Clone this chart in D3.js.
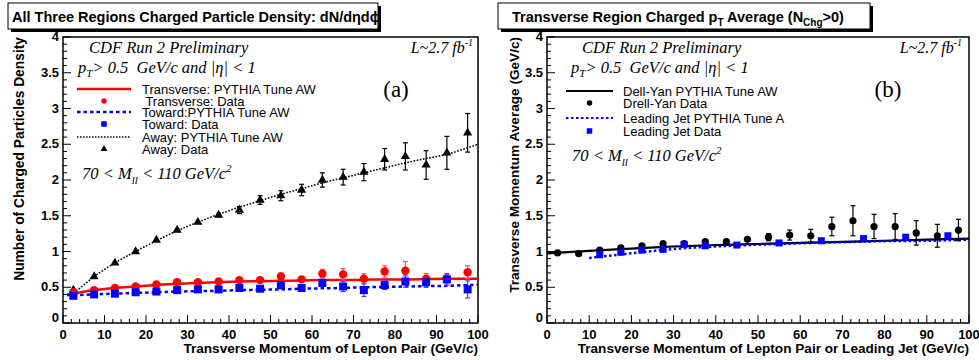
<!DOCTYPE html>
<html><head><meta charset="utf-8">
<script src="https://cdn.jsdelivr.net/npm/d3@7"></script>
<style>
body{margin:0;background:#fff;}
svg{display:block;}
</style></head>
<body><svg id="c" width="979" height="360"></svg>
<script>
// ---------- DATA ----------
const xBins = [2.5,7.5,12.5,17.5,22.5,27.5,32.5,37.5,42.5,47.5,52.5,57.5,62.5,67.5,72.5,77.5,82.5,87.5,92.5,97.5];
// Panel (a)
const transData = [0.43,0.46,0.49,0.51,0.54,0.57,0.57,0.58,0.60,0.60,0.65,0.61,0.69,0.68,0.62,0.72,0.73,0.62,0.62,0.71];
const transErr  = [0.01,0.01,0.01,0.01,0.01,0.02,0.02,0.02,0.03,0.03,0.05,0.04,0.06,0.08,0.07,0.08,0.13,0.07,0.06,0.09];
const towardData = [0.38,0.40,0.41,0.43,0.44,0.46,0.47,0.47,0.49,0.48,0.53,0.49,0.56,0.51,0.46,0.53,0.58,0.57,0.61,0.47];
const towardErr  = [0.01,0.01,0.01,0.01,0.01,0.02,0.02,0.02,0.03,0.04,0.05,0.04,0.05,0.07,0.09,0.06,0.08,0.07,0.08,0.12];
const awayData = [0.46,0.65,0.84,1.00,1.16,1.30,1.41,1.51,1.58,1.72,1.78,1.86,2.00,2.04,2.11,2.29,2.33,2.21,2.38,2.66];
const awayErr  = [0.02,0.02,0.02,0.02,0.02,0.03,0.03,0.04,0.05,0.06,0.07,0.08,0.10,0.11,0.12,0.15,0.19,0.20,0.23,0.27];
const theoryX = [1,2.5,7.5,12.5,17.5,22.5,27.5,32.5,37.5,42.5,47.5,52.5,57.5,62.5,67.5,72.5,77.5,82.5,87.5,92.5,97.5,100];
const transTheory  = [0.39,0.41,0.46,0.49,0.51,0.53,0.55,0.56,0.57,0.58,0.585,0.59,0.595,0.60,0.60,0.605,0.61,0.61,0.615,0.62,0.62,0.62];
const towardTheory = [0.39,0.39,0.40,0.41,0.42,0.43,0.44,0.445,0.45,0.46,0.465,0.47,0.48,0.485,0.49,0.50,0.505,0.51,0.515,0.52,0.53,0.535];
const awayTheory   = [0.40,0.43,0.65,0.84,1.00,1.15,1.29,1.41,1.52,1.62,1.71,1.80,1.88,1.96,2.03,2.10,2.17,2.24,2.30,2.36,2.45,2.50];
// Panel (b)
const dyData = [0.98,0.97,1.02,1.05,1.08,1.11,1.11,1.14,1.14,1.17,1.20,1.23,1.22,1.35,1.43,1.35,1.35,1.26,1.22,1.30];
const dyErr  = [0.01,0.01,0.01,0.02,0.02,0.02,0.03,0.03,0.03,0.04,0.05,0.07,0.09,0.13,0.21,0.17,0.18,0.17,0.16,0.15];
const jetX    = [12.5,17.5,22.5,27.5,32.5,37.5,45,55,65,75,85,95];
const jetData = [0.955,0.99,1.02,1.03,1.10,1.08,1.09,1.12,1.15,1.18,1.20,1.22];
const jetErr  = [0.01,0.01,0.01,0.01,0.01,0.01,0.01,0.01,0.02,0.02,0.02,0.03];
const dyTheoryX = [0,10,20,30,40,50,60,70,80,90,100];
const dyTheory  = [0.975,1.01,1.04,1.07,1.09,1.105,1.12,1.135,1.15,1.165,1.18];
const jetTheoryX = [10,20,30,40,50,60,70,80,90,100];
const jetTheory  = [0.91,0.975,1.035,1.07,1.095,1.115,1.13,1.145,1.15,1.165];
const xTicks = [0,10,20,30,40,50,60,70,80,90,100];
const yTicks = [0,0.5,1,1.5,2,2.5,3,3.5,4];
const yTickLabels = ["0","0.5","1","1.5","2","2.5","3","3.5","4"];

// ---------- DRAW ----------
const svg = d3.select("#c");
const SANS = "'Liberation Sans', Arial, sans-serif";
const SERIF = "'Liberation Serif', 'Times New Roman', serif";

function panel(o){
  const g = svg.append("g");
  const x = d3.scaleLinear().domain([0,100]).range([o.left, o.right]);
  const y = d3.scaleLinear().domain([0,4]).range([323, 37]);
  g.append("rect").attr("x",o.left).attr("y",37).attr("width",o.right-o.left).attr("height",286)
   .attr("fill","none").attr("stroke","#000").attr("stroke-width",1.5);
  const xMinor = d3.range(0,100.01,2);
  g.selectAll(".xm").data(xMinor).join("line")
   .attr("x1",d=>x(d)).attr("x2",d=>x(d)).attr("y1",323).attr("y2",d=>d%10===0?315:319)
   .attr("stroke","#000").attr("stroke-width",1);
  const yMinor = d3.range(0,4.001,0.1);
  g.selectAll(".ym").data(yMinor).join("line")
   .attr("y1",d=>y(d)).attr("y2",d=>y(d)).attr("x1",o.left)
   .attr("x2",d=>Math.abs(d*2-Math.round(d*2))<1e-6?o.left+8:o.left+4)
   .attr("stroke","#000").attr("stroke-width",1);
  g.selectAll(".xl").data(xTicks).join("text")
   .attr("x",d=>x(d)).attr("y",339).attr("text-anchor","middle")
   .attr("font-family",SANS).attr("font-weight","bold").attr("font-size",13).text(d=>d);
  g.selectAll(".yl").data(yTicks).join("text")
   .attr("x",o.left-4).attr("y",(d,i)=>y(d)+(i===0?-1:4)).attr("text-anchor","end")
   .attr("font-family",SANS).attr("font-weight","bold").attr("font-size",13).text((d,i)=>yTickLabels[i]);
  g.append("text").attr("x",o.right).attr("y",353).attr("text-anchor","end")
   .attr("font-family",SANS).attr("font-weight","bold").attr("font-size",o.xtSize).text(o.xTitle);
  g.append("text").attr("transform",`translate(${o.ytX},37) rotate(-90)`).attr("text-anchor","end")
   .attr("font-family",SANS).attr("font-weight","bold").attr("font-size",o.ytSize).text(o.yTitle);
  g.append("rect").attr("x",o.tb[0]+3).attr("y",o.tb[1]+3).attr("width",o.tb[2]).attr("height",o.tb[3]).attr("fill","#000");
  g.append("rect").attr("x",o.tb[0]).attr("y",o.tb[1]).attr("width",o.tb[2]).attr("height",o.tb[3])
   .attr("fill","#fff").attr("stroke","#000").attr("stroke-width",1);
  return {g,x,y};
}

function errBars(g,x,y,xs,vals,errs,color,cap){
  const d = xs.map((xv,i)=>({x:xv,v:vals[i],e:errs[i]}));
  const gg = g.append("g").attr("stroke",color).attr("stroke-width",1.2);
  gg.selectAll(".v").data(d).join("line").attr("x1",p=>x(p.x)).attr("x2",p=>x(p.x))
    .attr("y1",p=>y(p.v-p.e)).attr("y2",p=>y(p.v+p.e));
  const big = d.filter(p=>y(p.v-p.e)-y(p.v+p.e)>6);
  gg.selectAll(".t").data(big).join("line").attr("x1",p=>x(p.x)-cap).attr("x2",p=>x(p.x)+cap)
    .attr("y1",p=>y(p.v+p.e)).attr("y2",p=>y(p.v+p.e));
  gg.selectAll(".b").data(big).join("line").attr("x1",p=>x(p.x)-cap).attr("x2",p=>x(p.x)+cap)
    .attr("y1",p=>y(p.v-p.e)).attr("y2",p=>y(p.v-p.e));
}
function curve(g,x,y,xs,vals,color,w,dash){
  g.append("path").datum(xs.map((xv,i)=>[xv,vals[i]]))
   .attr("d",d3.line().x(d=>x(d[0])).y(d=>y(d[1])).curve(d3.curveMonotoneX))
   .attr("fill","none").attr("stroke",color).attr("stroke-width",w).attr("stroke-dasharray",dash||null);
}
const tri = d3.symbol().type(d3.symbolTriangle).size(36);

// ----- Panel (a) -----
const A = panel({left:63,right:478,xTitle:"Transverse Momentum of Lepton Pair (GeV/c)",xtSize:13.6,
  yTitle:"Number of Charged Particles Density",ytSize:13.8,ytX:24,tb:[8,3,370,26]});
{
  const {g,x,y} = A;
  g.append("text").attr("x",12).attr("y",22).attr("font-family",SANS).attr("font-weight","bold").attr("font-size",14.5)
   .text("All Three Regions Charged Particle Density: dN/dηdϕ");
  curve(g,x,y,theoryX,awayTheory,"#000",1.6,"1.6,1.6");
  curve(g,x,y,theoryX,transTheory,"#f00",2.5);
  curve(g,x,y,theoryX,towardTheory,"#0000ff",2.5,"3.5,3");
  errBars(g,x,y,xBins,awayData,awayErr,"#000",2.5);
  errBars(g,x,y,xBins,transData,transErr,"#ff5555",2.5);
  errBars(g,x,y,xBins,towardData,towardErr,"#4444ff",2.5);
  g.selectAll(".tr").data(xBins).join("path").attr("d",tri)
   .attr("transform",(d,i)=>`translate(${x(d)},${y(awayData[i])})`).attr("fill","#000");
  g.selectAll(".rc").data(xBins).join("circle").attr("cx",d=>x(d)).attr("cy",(d,i)=>y(transData[i])).attr("r",4.2).attr("fill","#f00");
  g.selectAll(".bs").data(xBins).join("rect").attr("x",d=>x(d)-4).attr("y",(d,i)=>y(towardData[i])-4)
   .attr("width",8).attr("height",8).attr("fill","#0000ff");
}
// ----- Panel (b) -----
const B = panel({left:547,right:969,xTitle:"Transverse Momentum of Lepton Pair or Leading Jet (GeV/c)",xtSize:13.6,
  yTitle:"Transverse Momentum Average (GeV/c)",ytSize:13.6,ytX:519,tb:[498,3,372,26]});
{
  const {g,x,y} = B;
  const t = g.append("text").attr("x",512).attr("y",22).attr("font-family",SANS).attr("font-weight","bold").attr("font-size",14.5);
  t.append("tspan").text("Transverse Region Charged p");
  t.append("tspan").attr("dy",4).attr("font-size",10).text("T");
  t.append("tspan").attr("dy",-4).text(" Average (N");
  t.append("tspan").attr("dy",4).attr("font-size",10).text("Chg");
  t.append("tspan").attr("dy",-4).text(">0)");
  curve(g,x,y,dyTheoryX,dyTheory,"#000",2.2);
  curve(g,x,y,jetTheoryX,jetTheory,"#0000ff",2.5,"2.5,2.5");
  errBars(g,x,y,xBins,dyData,dyErr,"#000",2.5);
  errBars(g,x,y,jetX,jetData,jetErr,"#4444ff",2.5);
  g.selectAll(".dc").data(xBins).join("circle").attr("cx",d=>x(d)).attr("cy",(d,i)=>y(dyData[i])).attr("r",3.6).attr("fill","#000");
  g.selectAll(".js").data(jetX).join("rect").attr("x",d=>x(d)-3.5).attr("y",(d,i)=>y(jetData[i])-3.5)
   .attr("width",7).attr("height",7).attr("fill","#0000ff");
}

// ----- Annotations -----
function ann(x0,y0,parts,size){
  const t = svg.append("text").attr("x",x0).attr("y",y0).attr("font-family",SERIF)
    .attr("font-style","italic").attr("font-size",size);
  parts.forEach(p=>{
    const s = t.append("tspan").text(p.t);
    if(p.dy) s.attr("dy",p.dy);
    if(p.fs) s.attr("font-size",p.fs);
  });
  return t;
}
function annotations(x0,xr){
  ann(x0,53,[{t:"CDF Run 2 Preliminary"}],16.5);
  ann(xr,53,[{t:"L~2.7 fb"},{t:"-1",dy:-7,fs:10}],16).attr("text-anchor","end");
  ann(x0-11,73,[{t:"p"},{t:"T",dy:4,fs:11},{t:"> 0.5  GeV/c and |η| < 1",dy:-4}],16.5).style("white-space","pre");
}
annotations(89,473);
annotations(582,962);
svg.append("text").attr("x",396).attr("y",97).attr("text-anchor","middle").attr("font-family",SERIF).attr("font-size",23).text("(a)");
svg.append("text").attr("x",888).attr("y",97).attr("text-anchor","middle").attr("font-family",SERIF).attr("font-size",23).text("(b)");
ann(82,179,[{t:"70 < M"},{t:"ll",dy:5,fs:11},{t:" < 110 GeV/c",dy:-5},{t:"2",dy:-7,fs:11}],16.5);
ann(572,161,[{t:"70 < M"},{t:"ll",dy:5,fs:11},{t:" < 110 GeV/c",dy:-5},{t:"2",dy:-7,fs:11}],16.5);

// Legends
const legA = [
  {label:"Transverse: PYTHIA Tune AW", type:"line", color:"#f00", w:2.5, dash:null, y:89},
  {label:" Transverse: Data", type:"circle", color:"#f00", y:101},
  {label:"Toward:PYTHIA Tune AW", type:"line", color:"#0000ff", w:2.5, dash:"3.5,3", y:112},
  {label:"Toward: Data", type:"square", color:"#0000ff", y:124},
  {label:"Away: PYTHIA Tune AW", type:"line", color:"#000", w:1.4, dash:"1.5,1.5", y:137},
  {label:"Away: Data", type:"tri", color:"#000", y:149}
];
const legB = [
  {label:"Dell-Yan PYTHIA Tune AW", type:"line", color:"#000", w:2.2, dash:null, y:91},
  {label:"Drell-Yan Data", type:"circle", color:"#000", y:103},
  {label:"Leading Jet PYTHIA Tune A", type:"line", color:"#0000ff", w:2, dash:"2.5,2.5", y:118},
  {label:"Leading Jet Data", type:"square", color:"#0000ff", y:131}
];
function legend(items,x1,x2,tx,ms){
  const g = svg.append("g");
  items.forEach(it=>{
    const cx=(x1+x2)/2;
    if(it.type==="line") g.append("line").attr("x1",x1).attr("x2",x2).attr("y1",it.y).attr("y2",it.y)
       .attr("stroke",it.color).attr("stroke-width",it.w).attr("stroke-dasharray",it.dash);
    if(it.type==="circle") g.append("circle").attr("cx",cx).attr("cy",it.y).attr("r",ms/2).attr("fill",it.color);
    if(it.type==="square") g.append("rect").attr("x",cx-ms/2).attr("y",it.y-ms/2).attr("width",ms).attr("height",ms).attr("fill",it.color);
    if(it.type==="tri") g.append("path").attr("d",d3.symbol().type(d3.symbolTriangle).size(20)).attr("transform",`translate(${cx},${it.y})`).attr("fill",it.color);
    g.append("text").attr("x",tx).attr("y",it.y+4.5).attr("font-family",SANS).attr("font-size",13)
     .style("white-space","pre").text(it.label);
  });
}
legend(legA,77,131,142,5.5);
legend(legB,566,613,623,5.5);
</script></body></html>
